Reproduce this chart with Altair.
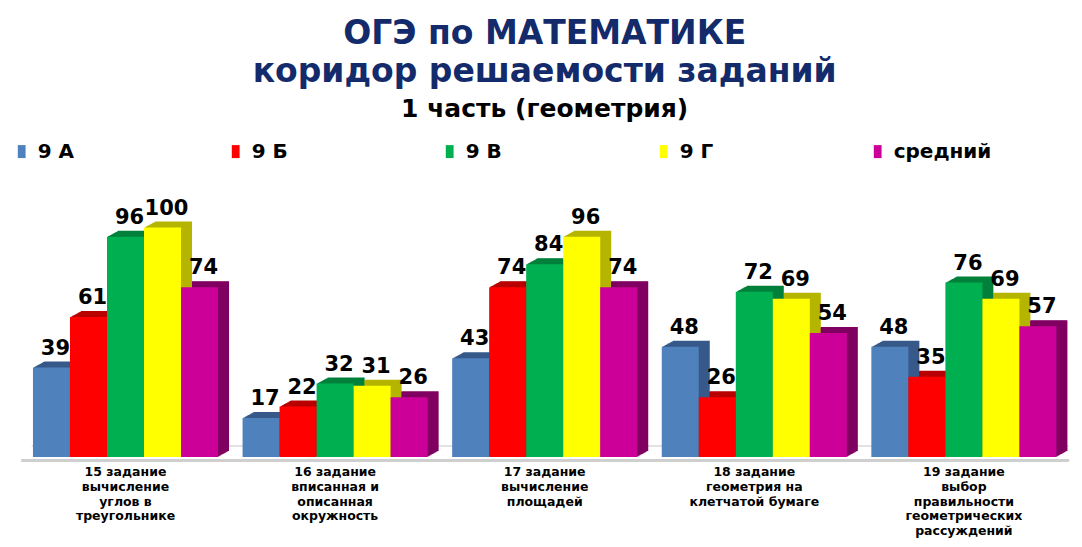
import altair as alt
import pandas as pd

tasks = [
    "15 задание|вычисление|углов в|треугольнике",
    "16 задание|вписанная  и|описанная|окружность",
    "17  задание|вычисление|площадей",
    "18 задание|геометрия на|клетчатой бумаге",
    "19 задание|выбор|правильности|геометрических|рассуждений",
]
series = ["9 А", "9 Б", "9 В", "9 Г", "средний"]
v_9a = [39, 17, 43, 48, 48]
v_9b = [61, 22, 74, 26, 35]
v_9v = [96, 32, 84, 72, 76]
v_9g = [100, 31, 96, 69, 69]
v_avg = [74, 26, 74, 54, 57]

front_colors = ["#4f81bd", "#ff0000", "#00b050", "#ffff00", "#cc0099"]
side_colors = ["#36598a", "#b80000", "#00803a", "#b5b500", "#7f0060"]

rows = []
for s, vals in zip(series, [v_9a, v_9b, v_9v, v_9g, v_avg]):
    for t, v in zip(tasks, vals):
        rows.append({"task": t, "series": s, "value": v})
df = pd.DataFrame(rows)

W = 1048
H = 252.4
FONT = "DejaVu Sans"
PI, PO = 0.117, 0.0585

axis_main = alt.Axis(title=None, labelAngle=0, ticks=False,
                     labelExpr="split(datum.label, '|')",
                     labelFont=FONT, labelFontSize=12.5, labelFontWeight="bold",
                     labelColor="black", labelLineHeight=14.6, labelLimit=0,
                     labelBaseline="top", labelPadding=6,
                     domainColor="#cfcfcf", domainWidth=3, offset=3)

xo_enc = alt.XOffset("series:N", sort=series,
                     scale=alt.Scale(type="band", paddingInner=0, paddingOuter=0))
y_enc = alt.Y("value:Q", scale=alt.Scale(domain=[0, 110], nice=False), axis=None)

base = alt.Chart(df)

back_line = alt.Chart(pd.DataFrame({"v": [0]})).mark_rule(
    color="#d9d9d9", strokeWidth=1.5, yOffset=-11
).encode(y=alt.Y("v:Q", scale=alt.Scale(domain=[0, 110], nice=False), axis=None),
         x=alt.value(11), x2=alt.value(W))


def x_band(dx, axis=None):
    return alt.X("task:N", sort=tasks,
                 scale=alt.Scale(type="band", paddingInner=PI, paddingOuter=PO,
                                 range=[dx, W + dx]),
                 axis=axis)


side_layers = []
steps = 10
for j in range(1, steps + 1):
    dx = 11.0 * j / steps
    dy = -6.0 * j / steps
    side_layers.append(
        base.mark_bar(yOffset=dy).encode(
            x=x_band(dx), xOffset=xo_enc, y=y_enc,
            color=alt.Color("series:N", sort=series,
                            scale=alt.Scale(domain=series, range=side_colors),
                            legend=None),
        )
    )

front = base.mark_bar().encode(
    x=x_band(0, axis_main), xOffset=xo_enc, y=y_enc,
    color=alt.Color("series:N", sort=series,
                    scale=alt.Scale(domain=series, range=front_colors),
                    legend=alt.Legend(title=None, orient="none", direction="horizontal",
                                      legendX=-9, legendY=-63, columns=5,
                                      symbolType="M-0.6,-1H0.6V1H-0.6Z", symbolSize=169,
                                      symbolStrokeWidth=0, symbolOpacity=1,
                                      labelFont=FONT, labelFontSize=20, labelFontWeight="bold",
                                      labelColor="black", labelOffset=6,
                                      gridAlign="all", columnPadding=90)),
)

labels = base.mark_text(baseline="alphabetic", dy=-13, dx=4, font=FONT,
                        fontSize=21, fontWeight="bold", color="black").encode(
    x=x_band(0), xOffset=xo_enc, y=y_enc, text="value:Q")

chart = alt.layer(back_line, *side_layers, front, labels).resolve_scale(
    color="independent", x="independent", xOffset="independent"
).properties(
    width=W, height=H,
    title=alt.TitleParams(
        text=["ОГЭ по МАТЕМАТИКЕ", "коридор решаемости заданий"],
        subtitle="1 часть (геометрия)",
        font=FONT, fontSize=33, fontWeight="bold", color="#132a6b", lineHeight=38,
        subtitleFont=FONT, subtitleFontSize=25, subtitleFontWeight="bold",
        subtitleColor="black", subtitlePadding=8, anchor="middle", offset=20,
    ),
    padding={"left": 12.7, "top": 196.6, "right": 3, "bottom": 82},
    autosize=alt.AutoSizeParams(type="none"),
).configure_view(stroke=None)

chart.save("out.html", embed_options={"renderer": "svg", "actions": False})
